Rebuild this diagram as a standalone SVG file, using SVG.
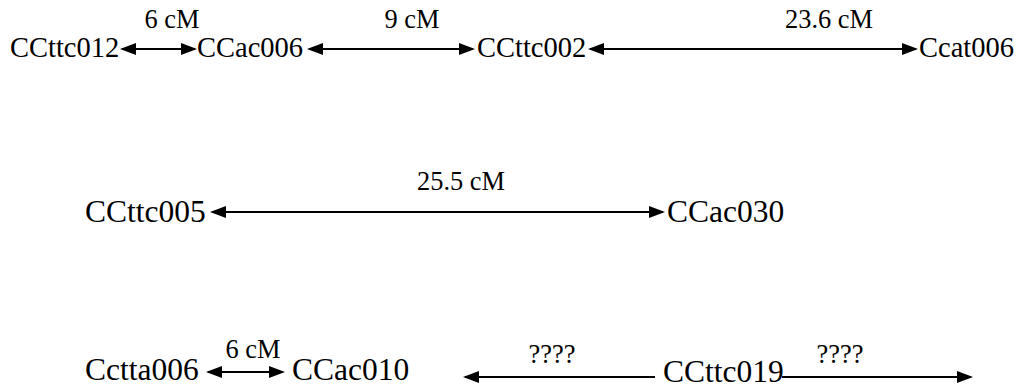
<svg xmlns="http://www.w3.org/2000/svg" width="1023" height="388" viewBox="0 0 1023 388" font-family="'Liberation Serif', 'Times New Roman', serif">
<style>
.n1{font-size:28.5px;font-family:'Liberation Serif','Times New Roman',serif}
.n2{font-size:31.5px;font-family:'Liberation Serif','Times New Roman',serif}
.lb{font-size:26.4px;font-family:'Liberation Serif','Times New Roman',serif}
.ln{stroke:#000;stroke-width:2.2;fill:none}
</style>
<defs>
<marker id="ah" markerUnits="userSpaceOnUse" markerWidth="16" markerHeight="13" refX="14" refY="6" orient="auto-start-reverse" viewBox="0 0 16 13">
<path d="M0,0 L16,6 L0,12 z" fill="#000"/>
</marker>
</defs>
<rect width="1023" height="388" fill="#fff"/>
<g id="connectors">
<line class="ln" x1="122" y1="49" x2="195" y2="49" marker-start="url(#ah)" marker-end="url(#ah)"/>
<line class="ln" x1="309" y1="49" x2="473" y2="49" marker-start="url(#ah)" marker-end="url(#ah)"/>
<line class="ln" x1="590" y1="49" x2="916" y2="49" marker-start="url(#ah)" marker-end="url(#ah)"/>
<line class="ln" x1="212" y1="212" x2="663" y2="212" marker-start="url(#ah)" marker-end="url(#ah)"/>
<line class="ln" x1="208" y1="372" x2="283" y2="372" marker-start="url(#ah)" marker-end="url(#ah)"/>
<line class="ln" x1="465" y1="377" x2="655" y2="377" marker-start="url(#ah)"/>
<line class="ln" x1="782" y1="377" x2="971" y2="377" marker-end="url(#ah)"/>
</g>
<g id="labels">
<text class="lb" x="172" y="28" text-anchor="middle">6 cM</text>
<text class="lb" x="412" y="28" text-anchor="middle">9 cM</text>
<text class="lb" x="829" y="28" text-anchor="middle">23.6 cM</text>
<text class="lb" x="461" y="190" text-anchor="middle">25.5 cM</text>
<text class="lb" x="253" y="358" text-anchor="middle">6 cM</text>
<text class="lb" x="552" y="363" text-anchor="middle">????</text>
<text class="lb" x="840" y="363" text-anchor="middle">????</text>
</g>
<g id="CCttc012"><text class="n1" x="10" y="57">CCttc012</text></g>
<g id="CCac006"><text class="n1" x="197" y="57">CCac006</text></g>
<g id="CCttc002"><text class="n1" x="477" y="57">CCttc002</text></g>
<g id="Ccat006"><text class="n1" x="919" y="57">Ccat006</text></g>
<g id="CCttc005"><text class="n2" x="85" y="222">CCttc005</text></g>
<g id="CCac030"><text class="n2" x="667" y="222">CCac030</text></g>
<g id="Cctta006"><text class="n2" x="85" y="380">Cctta006</text></g>
<g id="CCac010"><text class="n2" x="292" y="380">CCac010</text></g>
<g id="CCttc019"><text class="n2" x="663" y="382">CCttc019</text></g>
</svg>
